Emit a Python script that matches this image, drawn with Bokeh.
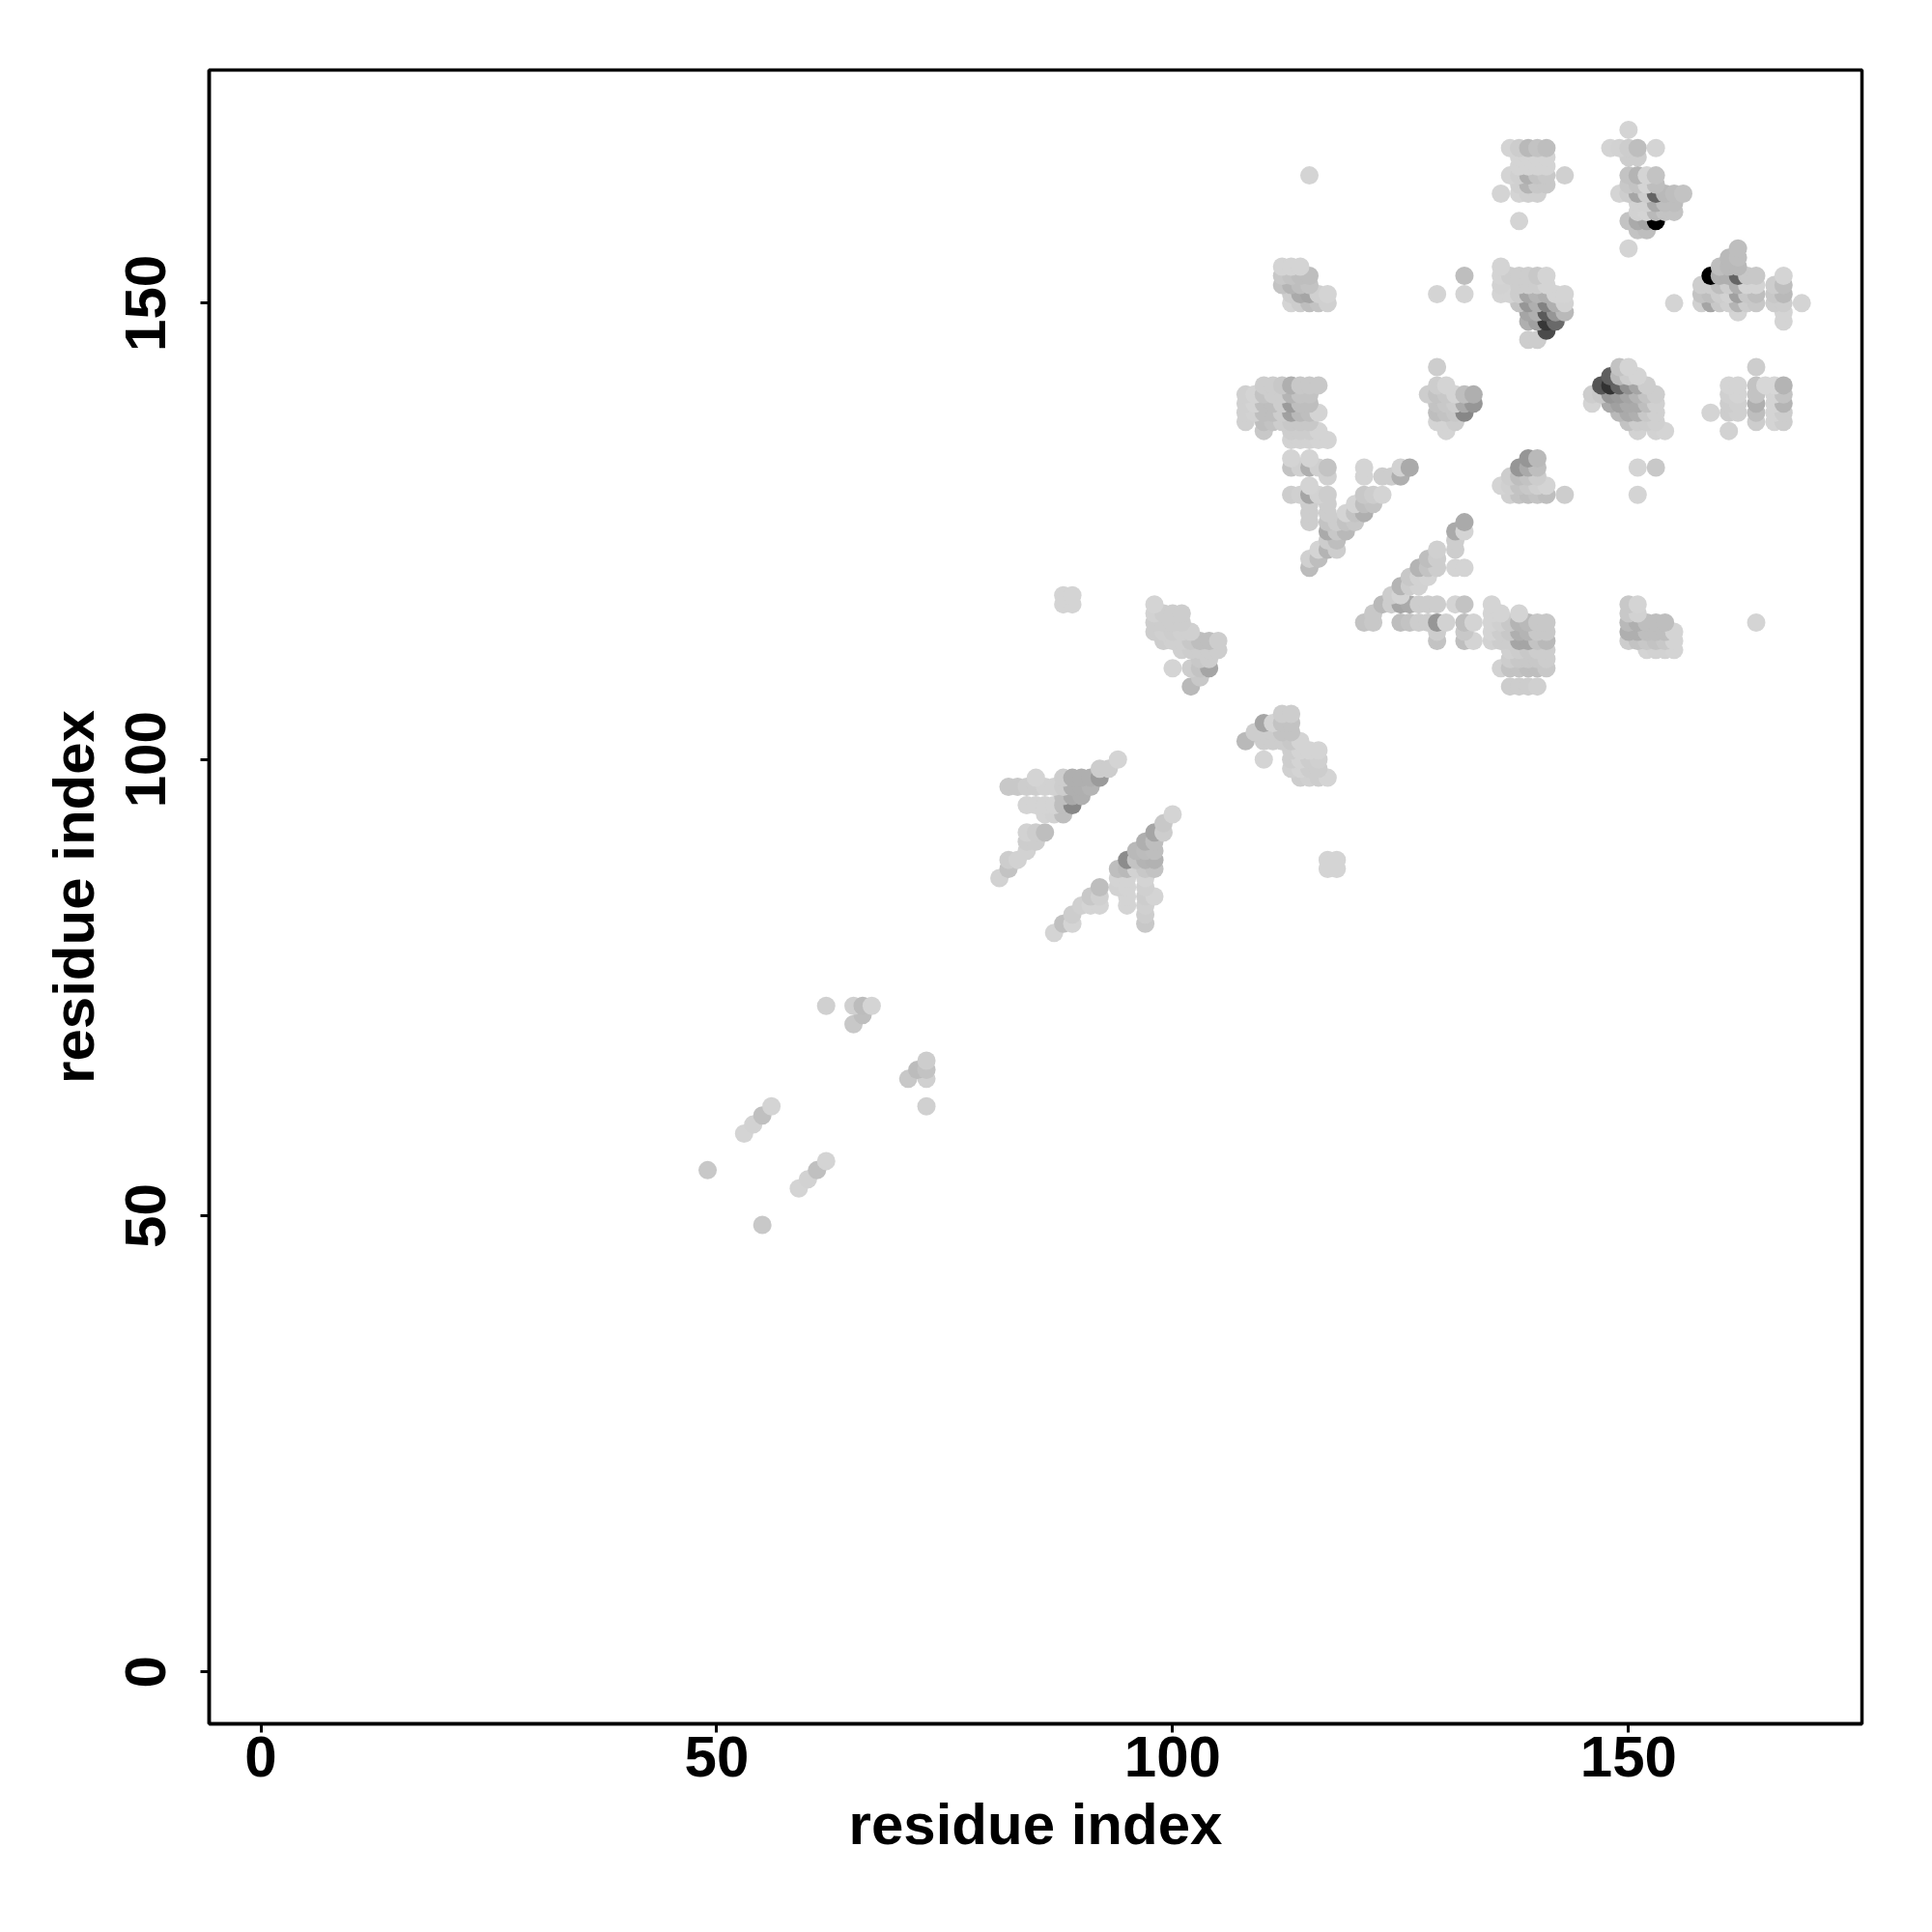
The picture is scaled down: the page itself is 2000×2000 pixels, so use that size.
from bokeh.plotting import figure
from bokeh.models import Range1d, FixedTicker, ColumnDataSource
from bokeh.embed import file_html
from bokeh.resources import INLINE

x_ticks = [0, 50, 100, 150]
y_ticks = [0, 50, 100, 150]
x_title = "residue index"
y_title = "residue index"

# contacts, row by row: residue on y, residues on x, grey level of each dot
row_y = [49, 53, 54, 55, 56, 59, 60, 61, 62, 65, 66, 67, 71, 72, 73,
         81, 82, 83, 84, 85, 86, 87, 88, 89, 90, 91, 92, 93, 94, 95, 96, 97, 98, 99, 100,
         101, 102, 103, 104, 105, 108, 109, 110, 111, 112, 113, 114, 115, 116, 117, 118, 119, 120,
         121, 122, 123, 124, 125, 126, 127, 128, 129, 130, 131, 132, 133, 135, 136, 137, 138, 139, 140,
         141, 142, 143, 146, 147, 148, 149, 150, 151, 152, 153, 154, 155, 156, 158, 159, 160,
         161, 162, 163, 164, 165, 166, 167, 169]

row_x = [
 [55], [59], [60], [49, 61], [62], [53], [54], [55], [56, 73], [71, 73], [72, 73], [73], [65], [66], [62, 65, 66, 67],
 [87],
 [88, 89, 97],
 [89, 97],
 [90, 91, 92, 95, 97],
 [91, 92, 95, 97, 98],
 [92, 94, 95, 97],
 [81, 94, 95, 97],
 [82, 94, 95, 96, 97, 98, 117, 118],
 [82, 83, 95, 96, 97, 98, 117, 118],
 [84, 96, 97, 98],
 [84, 85, 97, 98],
 [84, 85, 86, 98, 99],
 [99],
 [86, 87, 88, 100],
 [84, 85, 86, 87, 88, 89],
 [88, 89, 90],
 [82, 83, 84, 85, 86, 87, 88, 89, 90, 91],
 [85, 88, 89, 90, 91, 92, 114, 115, 116, 117],
 [92, 93, 113, 114, 115, 116],
 [94, 110, 113, 114, 115, 116],
 [113, 114, 115, 116],
 [108, 110, 111, 112, 113, 114],
 [109, 111, 112, 113],
 [110, 111, 112, 113],
 [112, 113],
 [102, 137, 138, 139, 140],
 [103],
 [100, 102, 103, 104, 136, 137, 138, 139, 140, 141],
 [103, 104, 137, 138, 139, 140, 141],
 [101, 102, 103, 104, 105, 137, 138, 139, 140, 141, 152, 153, 154, 155],
 [99, 100, 101, 102, 103, 104, 105, 129, 132, 133, 135, 136, 137, 138, 139, 140, 141, 150, 151, 152, 153, 154, 155],
 [98, 99, 100, 101, 102, 129, 132, 135, 136, 137, 138, 139, 140, 141, 150, 151, 152, 153, 154, 155],
 [98, 99, 100, 101, 121, 122, 125, 126, 127, 128, 129, 130, 132, 133, 135, 136, 137, 138, 139, 140, 141, 150, 151, 152, 153, 154, 164],
 [98, 99, 100, 101, 122, 135, 136, 138, 150, 151],
 [88, 89, 98, 123, 124, 125, 126, 127, 128, 129, 131, 132, 135, 150, 151],
 [88, 89, 124, 125],
 [125, 126, 127],
 [126, 127, 128],
 [115, 127, 128, 129, 131, 132],
 [115, 116, 128, 129],
 [116, 117, 118, 129, 131],
 [117, 118, 131],
 [117, 118, 119, 131, 132],
 [115, 117, 118, 119, 120, 132],
 [115, 117, 119, 120, 121],
 [115, 117, 120, 121, 122],
 [113, 114, 115, 116, 117, 121, 122, 123, 137, 138, 139, 140, 141, 143, 151],
 [115, 136, 137, 138, 139, 140, 141],
 [117, 121, 123, 124, 125, 137, 138, 139, 140],
 [113, 114, 115, 116, 117, 121, 125, 126, 138, 139, 140, 151, 153],
 [113, 115, 139, 140],
 [113, 114, 115, 116, 117],
 [110, 113, 114, 115, 116, 130, 151, 153, 154, 161],
 [108, 110, 111, 112, 113, 114, 115, 129, 130, 131, 150, 151, 152, 153, 164, 166, 167],
 [108, 109, 110, 111, 112, 113, 114, 115, 116, 129, 130, 131, 132, 149, 150, 151, 152, 153, 159, 161, 162, 164, 166, 167],
 [108, 109, 110, 111, 112, 113, 114, 115, 129, 130, 131, 132, 133, 146, 148, 149, 150, 151, 152, 153, 161, 162, 164, 166, 167],
 [108, 109, 110, 111, 112, 113, 114, 115, 128, 129, 130, 131, 132, 133, 146, 147, 148, 149, 150, 151, 152, 153, 161, 162, 164, 166, 167],
 [110, 111, 112, 113, 114, 115, 116, 129, 130, 147, 148, 149, 150, 151, 152, 161, 162, 164, 165, 166, 167],
 [148, 149, 150, 151],
 [129, 149, 150, 164],
 [139, 140],
 [141],
 [139, 140, 141, 142, 167],
 [139, 140, 141, 142, 143, 162, 167],
 [113, 114, 115, 116, 117, 138, 139, 140, 141, 142, 143, 155, 158, 159, 160, 161, 162, 163, 164, 166, 167, 169],
 [113, 114, 115, 116, 117, 129, 132, 136, 137, 138, 139, 140, 141, 142, 143, 158, 159, 160, 161, 162, 163, 164, 166, 167],
 [112, 113, 114, 115, 136, 138, 139, 140, 141, 158, 159, 160, 161, 162, 163, 164, 166, 167],
 [112, 113, 114, 115, 132, 136, 137, 138, 139, 140, 141, 159, 160, 161, 162, 163, 164, 167],
 [112, 113, 114, 136, 160, 161, 162],
 [161, 162],
 [150, 162],
 [151, 152],
 [138, 150, 151, 152, 153],
 [151, 152, 153, 154, 155],
 [151, 152, 153, 154, 155],
 [136, 138, 139, 140, 149, 150, 151, 152, 153, 154, 155, 156],
 [138, 139, 140, 141, 150, 151, 152, 153],
 [115, 137, 138, 139, 140, 141, 143, 150, 151, 152, 153],
 [138, 139, 140, 141],
 [138, 139, 140, 141, 150, 151],
 [137, 138, 139, 140, 141, 148, 149, 150, 151, 153],
 [150],
]

row_grey = [
 [200], [212], [210], [200, 192], [212], [212], [210], [192], [212, 208], [200, 208], [188, 195], [205], [200], [190], [208, 208, 188, 212],
 [212],
 [192, 212, 200],
 [205, 205],
 [208, 212, 212, 212, 208],
 [200, 208, 212, 205, 212],
 [190, 210, 212, 208],
 [210, 212, 212, 212],
 [195, 190, 185, 210, 200, 195, 212, 212],
 [205, 210, 140, 195, 180, 178, 212, 212],
 [210, 185, 188, 190],
 [205, 205, 175, 190],
 [210, 205, 190, 165, 205],
 [200],
 [212, 210, 190, 212],
 [212, 212, 212, 212, 190, 135],
 [190, 170, 175],
 [200, 200, 205, 205, 210, 210, 205, 175, 175, 180],
 [212, 205, 175, 175, 175, 155, 205, 208, 205, 212],
 [205, 205, 208, 212, 205, 205],
 [212, 212, 205, 212, 205, 208],
 [205, 212, 212, 212],
 [185, 205, 205, 205, 200, 212],
 [205, 205, 195, 195],
 [165, 212, 195, 195],
 [205, 205],
 [185, 205, 205, 205, 208],
 [200],
 [212, 205, 195, 165, 210, 195, 195, 190, 190, 200],
 [200, 205, 205, 200, 200, 200, 205],
 [208, 205, 205, 205, 205, 208, 205, 200, 205, 205, 212, 210, 210, 212],
 [205, 208, 208, 200, 190, 190, 205, 195, 190, 212, 210, 205, 205, 165, 165, 195, 185, 205, 195, 200, 195, 200, 212],
 [205, 208, 205, 208, 208, 205, 200, 212, 205, 200, 175, 180, 200, 200, 175, 175, 190, 190, 190, 212],
 [205, 205, 205, 205, 195, 200, 190, 195, 205, 205, 150, 210, 190, 212, 212, 208, 200, 180, 185, 200, 200, 185, 175, 190, 190, 190, 212],
 [210, 205, 205, 205, 200, 212, 212, 212, 200, 210],
 [212, 212, 212, 185, 205, 165, 170, 205, 205, 205, 212, 195, 212, 200, 212],
 [212, 212, 205, 212],
 [180, 205, 210],
 [200, 210, 212],
 [188, 180, 195, 205, 212, 212],
 [208, 190, 190, 205],
 [212, 180, 205, 208, 205],
 [205, 190, 205],
 [170, 200, 185, 170, 212],
 [205, 195, 205, 195, 200, 170],
 [205, 205, 212, 195, 175],
 [205, 205, 212, 190, 195],
 [205, 208, 165, 210, 205, 200, 205, 212, 208, 195, 190, 195, 190, 205, 212],
 [212, 212, 208, 195, 200, 208, 212],
 [208, 212, 205, 205, 175, 205, 190, 195, 205],
 [195, 208, 175, 208, 195, 212, 210, 170, 150, 170, 190, 212, 200],
 [212, 212, 150, 185],
 [210, 210, 210, 212, 212],
 [200, 205, 205, 205, 212, 212, 210, 210, 212, 210],
 [208, 190, 195, 205, 200, 200, 200, 212, 212, 205, 195, 205, 205, 208, 205, 212, 205],
 [208, 210, 190, 190, 205, 160, 185, 190, 212, 190, 195, 200, 135, 185, 170, 175, 200, 208, 212, 205, 208, 190, 212, 205],
 [208, 212, 190, 190, 205, 155, 190, 190, 195, 200, 205, 170, 150, 212, 170, 160, 170, 170, 190, 208, 205, 208, 175, 212, 180],
 [208, 212, 195, 205, 205, 180, 195, 195, 205, 195, 200, 212, 190, 175, 205, 200, 150, 155, 165, 180, 195, 205, 208, 212, 195, 212, 195],
 [205, 205, 200, 175, 200, 200, 200, 205, 212, 85, 50, 100, 145, 165, 205, 212, 212, 195, 215, 215, 180],
 [95, 185, 205, 212],
 [205, 195, 212, 205],
 [205, 205],
 [75],
 [175, 160, 55, 105, 212],
 [165, 175, 90, 150, 185, 212, 212],
 [212, 205, 190, 195, 208, 195, 150, 175, 130, 175, 210, 212, 208, 165, 200, 208, 180, 205, 200, 205, 205, 212],
 [205, 170, 165, 208, 212, 212, 212, 212, 212, 205, 165, 180, 175, 212, 212, 195, 190, 205, 210, 160, 200, 190, 200, 185],
 [195, 180, 190, 195, 210, 205, 205, 205, 212, 205, 205, 190, 205, 175, 212, 212, 205, 190],
 [200, 195, 190, 190, 190, 212, 205, 205, 205, 200, 212, 0, 175, 175, 100, 200, 200, 212],
 [212, 212, 212, 212, 190, 185, 185],
 [185, 190],
 [212, 190],
 [195, 190],
 [212, 195, 170, 165, 0],
 [210, 212, 185, 195, 195],
 [210, 210, 170, 190, 190],
 [212, 212, 208, 208, 212, 205, 165, 205, 100, 185, 190, 195],
 [208, 180, 200, 200, 200, 195, 212, 190],
 [212, 212, 208, 175, 195, 200, 208, 195, 180, 212, 195],
 [212, 212, 212, 212],
 [212, 212, 212, 212, 205, 205],
 [212, 205, 185, 195, 190, 212, 210, 205, 190, 212],
 [212],
]

xs, ys, cols = [], [], []
for y, rx, rg in zip(row_y, row_x, row_grey):
    if len(rx) != len(rg):
        raise ValueError(f"row {y}: {len(rx)} x, {len(rg)} grey")
    for x, g in zip(rx, rg):
        xs.append(x)
        ys.append(y)
        cols.append(f"#{g:02x}{g:02x}{g:02x}")

source = ColumnDataSource(dict(x=xs, y=ys, c=cols))

p = figure(width=1984, height=1984, output_backend="svg", toolbar_location=None,
           x_range=Range1d(-5.67, 175.6), y_range=Range1d(-5.67, 175.55),
           min_border_left=216, min_border_right=57, min_border_top=72, min_border_bottom=200,
           background_fill_color="white", border_fill_color="white")

p.scatter("x", "y", source=source, size=19, marker="circle", fill_color="c", line_color=None)

p.grid.visible = False
p.outline_line_color = "black"
p.outline_line_width = 3.5

for ax, ticks, title in ((p.xaxis[0], x_ticks, x_title), (p.yaxis[0], y_ticks, y_title)):
    ax.ticker = FixedTicker(ticks=ticks)
    ax.minor_tick_line_color = None
    ax.major_tick_in = 0
    ax.major_tick_out = 9
    ax.major_tick_line_width = 3
    ax.major_tick_line_color = "black"
    ax.axis_line_color = "black"
    ax.axis_line_width = 3.5
    ax.axis_label = title
    ax.axis_label_text_font = "Liberation Sans"
    ax.axis_label_text_font_style = "bold"
    ax.axis_label_text_font_size = "60px"
    ax.axis_label_text_color = "black"
    ax.major_label_text_font = "Liberation Sans"
    ax.major_label_text_font_style = "bold"
    ax.major_label_text_font_size = "60px"
    ax.major_label_text_color = "black"

p.yaxis[0].major_label_orientation = "parallel"
p.xaxis[0].major_label_standoff = 4
p.yaxis[0].major_label_standoff = 36
p.xaxis[0].axis_label_standoff = 13
p.yaxis[0].axis_label_standoff = 18

open("out.html", "w").write(file_html(p, INLINE))
